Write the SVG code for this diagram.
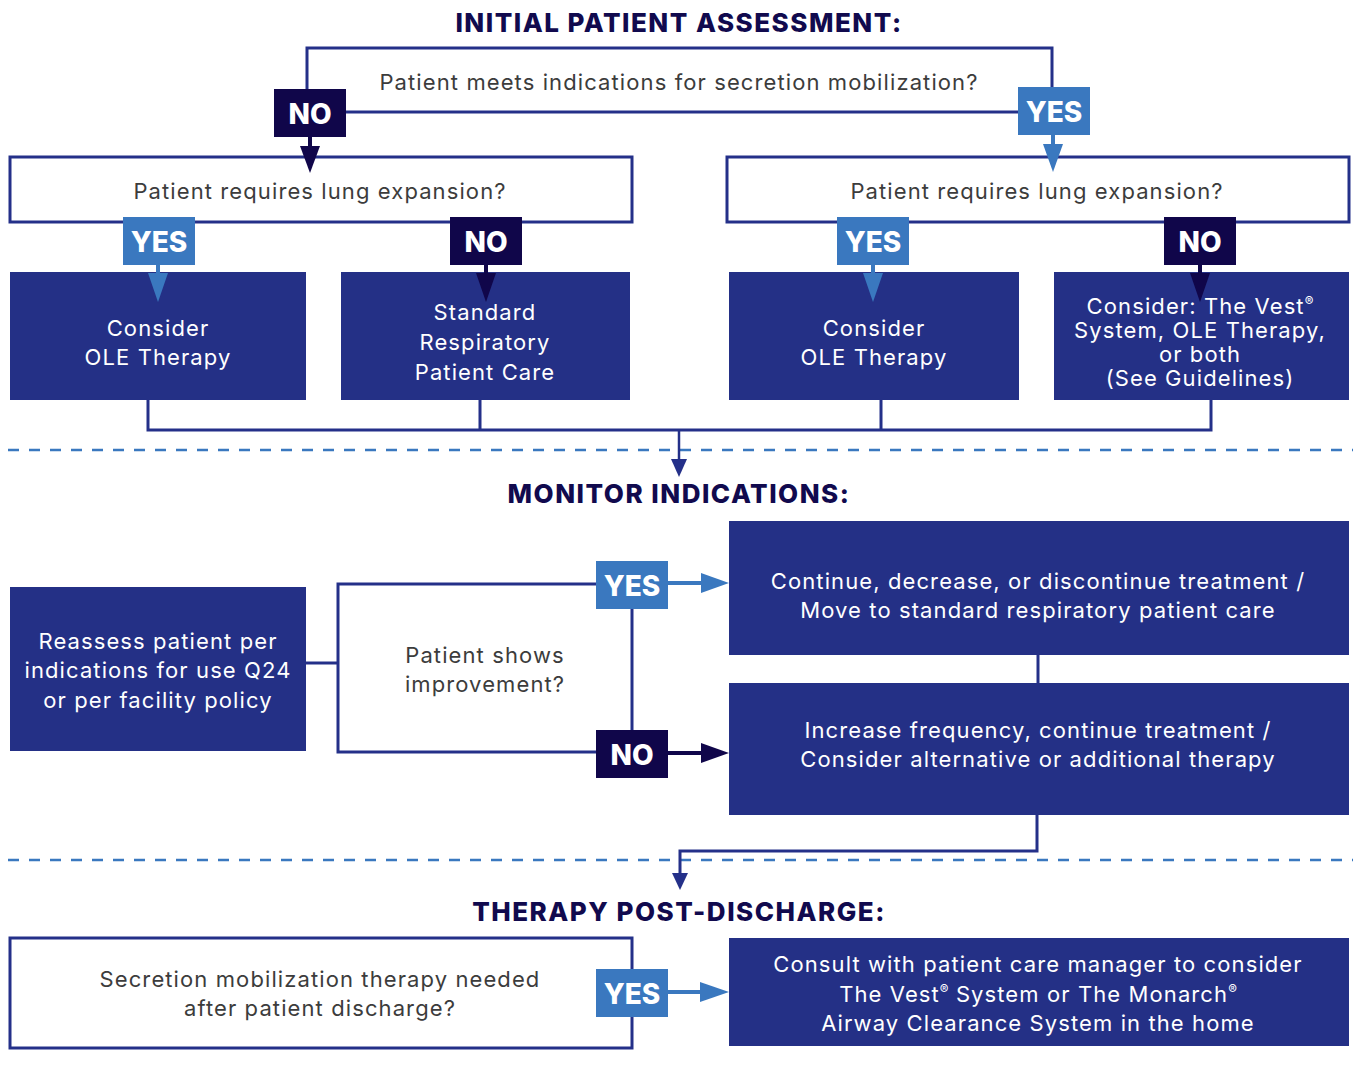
<svg xmlns="http://www.w3.org/2000/svg" width="1353" height="1072" viewBox="0 0 1353 1072">
<defs>
<style>
.title{font-family:Inter,"Liberation Sans",sans-serif;font-weight:800;font-size:26px;letter-spacing:1.5px;fill:#110a4e;text-anchor:middle}
.q{font-family:Inter,"Liberation Sans",sans-serif;font-size:22px;letter-spacing:1.1px;fill:#3c3c3c;text-anchor:middle}
.w{font-family:Inter,"Liberation Sans",sans-serif;font-size:22px;letter-spacing:1.1px;fill:#ffffff;text-anchor:middle}
.lbl{font-family:Inter,"Liberation Sans",sans-serif;font-weight:800;font-size:28px;fill:#ffffff;text-anchor:middle}
.out{fill:#ffffff;stroke:#243089;stroke-width:3}
.box{fill:#243086}
.yes{fill:#3a78bf}
.no{fill:#10064a}
.ln{fill:none;stroke:#243089;stroke-width:3}
.dash{stroke:#3a78bf;stroke-width:2.5;stroke-dasharray:11 10}
.sup{font-size:13px;letter-spacing:0}
</style>
</defs>
<rect width="1353" height="1072" fill="#ffffff"/>

<text class="title" x="679" y="32">INITIAL PATIENT ASSESSMENT:</text>
<text class="title" x="679" y="503">MONITOR INDICATIONS:</text>
<text class="title" x="679" y="921">THERAPY POST-DISCHARGE:</text>

<line class="dash" x1="8" y1="450" x2="1353" y2="450"/>
<line class="dash" x1="8" y1="860" x2="1353" y2="860"/>

<g id="q-secretion">
  <path class="ln" d="M307 112V48H1052V112H307"/>
  <text class="q" x="679" y="90">Patient meets indications for secretion mobilization?</text>
</g>
<g id="lbl-no-top"><rect class="no" x="274" y="89" width="72" height="48"/><text class="lbl" x="310" y="124">NO</text></g>
<g id="lbl-yes-top"><rect class="yes" x="1018" y="87" width="72" height="48"/><text class="lbl" x="1054" y="122">YES</text></g>

<g id="q-lung-left">
  <rect class="out" x="10" y="157" width="622" height="65"/>
  <text class="q" x="320" y="199">Patient requires lung expansion?</text>
</g>
<g id="q-lung-right">
  <rect class="out" x="727" y="157" width="622" height="65"/>
  <text class="q" x="1037" y="199">Patient requires lung expansion?</text>
</g>

<g id="box-ole-left">
  <rect class="box" x="10" y="272" width="296" height="128"/>
  <text class="w" x="158" y="336">Consider</text>
  <text class="w" x="158" y="365">OLE Therapy</text>
</g>
<g id="box-standard">
  <rect class="box" x="341" y="272" width="289" height="128"/>
  <text class="w" x="485" y="320">Standard</text>
  <text class="w" x="485" y="350">Respiratory</text>
  <text class="w" x="485" y="380">Patient Care</text>
</g>
<g id="box-ole-right">
  <rect class="box" x="729" y="272" width="290" height="128"/>
  <text class="w" x="874" y="336">Consider</text>
  <text class="w" x="874" y="365">OLE Therapy</text>
</g>
<g id="box-vest">
  <rect class="box" x="1054" y="272" width="295" height="128"/>
  <text class="w" x="1200" y="314">Consider: The Vest<tspan class="sup" dy="-8">®</tspan></text>
  <text class="w" x="1200" y="338">System, OLE Therapy,</text>
  <text class="w" x="1200" y="362">or both</text>
  <text class="w" x="1200" y="386">(See Guidelines)</text>
</g>

<g id="lbl-yes-l"><rect class="yes" x="123" y="217" width="72" height="48"/><text class="lbl" x="159" y="252">YES</text></g>
<g id="lbl-no-l"><rect class="no" x="450" y="217" width="72" height="48"/><text class="lbl" x="486" y="252">NO</text></g>
<g id="lbl-yes-r"><rect class="yes" x="837" y="217" width="72" height="48"/><text class="lbl" x="873" y="252">YES</text></g>
<g id="lbl-no-r"><rect class="no" x="1164" y="217" width="72" height="48"/><text class="lbl" x="1200" y="252">NO</text></g>

<g id="box-reassess">
  <rect class="box" x="10" y="587" width="296" height="164"/>
  <text class="w" x="158" y="649">Reassess patient per</text>
  <text class="w" x="158" y="678">indications for use Q24</text>
  <text class="w" x="158" y="708">or per facility policy</text>
</g>
<g id="q-improve">
  <text class="q" x="485" y="663">Patient shows</text>
  <text class="q" x="485" y="692">improvement?</text>
</g>
<g id="box-continue">
  <rect class="box" x="729" y="521" width="620" height="134"/>
  <text class="w" x="1038" y="589">Continue, decrease, or discontinue treatment /</text>
  <text class="w" x="1038" y="618">Move to standard respiratory patient care</text>
</g>
<g id="box-increase">
  <rect class="box" x="729" y="683" width="620" height="132"/>
  <text class="w" x="1038" y="738">Increase frequency, continue treatment /</text>
  <text class="w" x="1038" y="767">Consider alternative or additional therapy</text>
</g>

<g id="q-discharge">
  <rect class="out" x="10" y="938" width="622" height="110"/>
  <text class="q" x="320" y="987">Secretion mobilization therapy needed</text>
  <text class="q" x="320" y="1016">after patient discharge?</text>
</g>
<g id="box-consult">
  <rect class="box" x="729" y="938" width="620" height="108"/>
  <text class="w" x="1038" y="972">Consult with patient care manager to consider</text>
  <text class="w" x="1038" y="1002">The Vest<tspan class="sup" dy="-8">®</tspan><tspan dy="8"> System or The Monarch</tspan><tspan class="sup" dy="-8">®</tspan></text>
  <text class="w" x="1038" y="1031">Airway Clearance System in the home</text>
</g>

<g id="connectors">
  <!-- top NO / YES arrows -->
  <path d="M310 137V148" stroke="#10064a" stroke-width="4"/>
  <path d="M300 146L320 146L310 173z" fill="#10064a"/>
  <path d="M1053 135V146" stroke="#3a78bf" stroke-width="4"/>
  <path d="M1043 144L1063 144L1053 172z" fill="#3a78bf"/>
  <!-- second row arrows -->
  <path d="M158 265V275" stroke="#3a78bf" stroke-width="4"/>
  <path d="M148 273L168 273L158 302z" fill="#3a78bf"/>
  <path d="M486 265V275" stroke="#10064a" stroke-width="4"/>
  <path d="M476 273L496 273L486 302z" fill="#10064a"/>
  <path d="M873 265V275" stroke="#3a78bf" stroke-width="4"/>
  <path d="M863 273L883 273L873 302z" fill="#3a78bf"/>
  <path d="M1200 264V275" stroke="#10064a" stroke-width="4"/>
  <path d="M1190 273L1210 273L1200 302z" fill="#10064a"/>
  <!-- merge to monitor -->
  <path class="ln" d="M148 400V430H1211V400M480 400V430M881 400V430" stroke-width="2.5"/>
  <path d="M679 430V461" stroke="#243089" stroke-width="2.5"/>
  <path d="M671 459L687 459L679 477z" fill="#243089"/>
  <!-- monitor section -->
  <path d="M306 663H338" stroke="#243089" stroke-width="3"/>
  <path class="ln" d="M596 584H338V752H596"/>
  <path d="M632 609V730" stroke="#243089" stroke-width="3"/>
  <path d="M668 583H704" stroke="#3a78bf" stroke-width="4"/>
  <path d="M701 573L701 593L729 583z" fill="#3a78bf"/>
  <path d="M668 753H704" stroke="#10064a" stroke-width="4"/>
  <path d="M701 743L701 763L729 753z" fill="#10064a"/>
  <path d="M1038 655V683" stroke="#243089" stroke-width="3"/>
  <path class="ln" d="M1037 815V851H680V875" stroke-width="2.5"/>
  <path d="M672 873L688 873L680 890z" fill="#243089"/>
  <!-- bottom -->
  <path d="M668 992H704" stroke="#3a78bf" stroke-width="4"/>
  <path d="M700 982L700 1002L729 992z" fill="#3a78bf"/>
</g>

<g id="lbl-yes-m"><rect class="yes" x="596" y="561" width="72" height="48"/><text class="lbl" x="632" y="596">YES</text></g>
<g id="lbl-no-m"><rect class="no" x="596" y="730" width="72" height="48"/><text class="lbl" x="632" y="765">NO</text></g>
<g id="lbl-yes-b"><rect class="yes" x="596" y="969" width="72" height="48"/><text class="lbl" x="632" y="1004">YES</text></g>
</svg>
